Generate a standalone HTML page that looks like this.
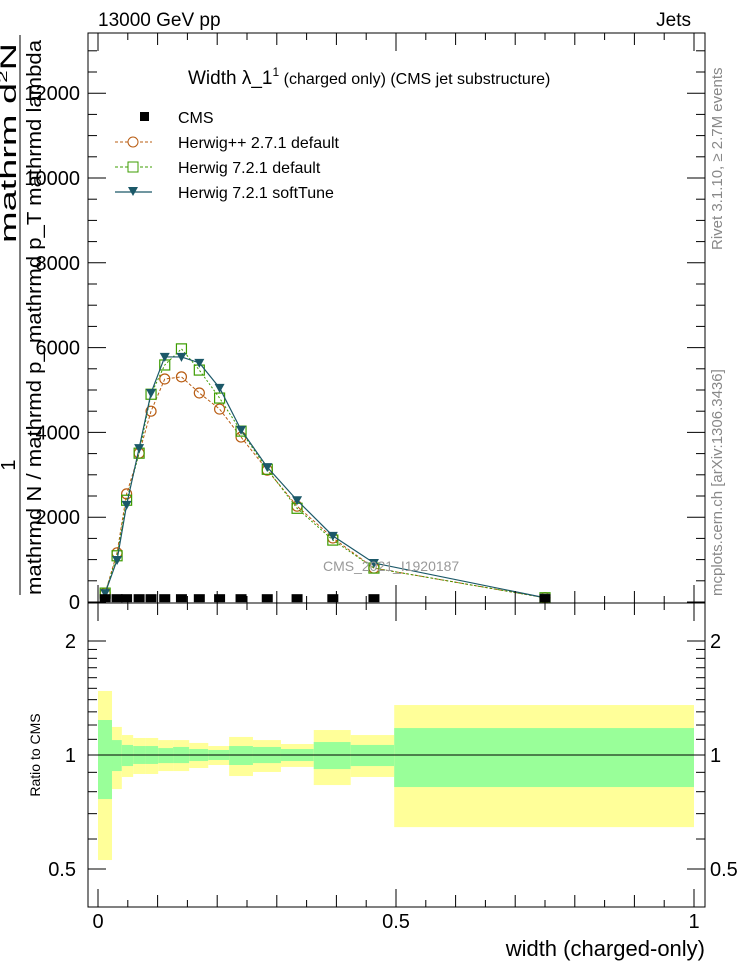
<!DOCTYPE html>
<html><head><meta charset="utf-8"><style>
body{margin:0;background:#fff;}
svg{display:block;font-family:"Liberation Sans",sans-serif;}
</style></head><body>
<svg id="chart" width="746" height="972" viewBox="0 0 746 972">
<g id="bands"></g>
<g id="grid"></g>
<g id="marks"></g>
<rect x="88" y="33" width="617" height="570" fill="none" stroke="#000"/>
<rect x="88" y="603" width="617" height="304" fill="none" stroke="#000"/>
<g id="ticks"></g>
<text x="98" y="26" font-size="19">13000 GeV pp</text>
<text x="691" y="26" font-size="19" text-anchor="end">Jets</text>
<text x="188" y="84" font-size="19">Width λ_1<tspan font-size="12" dy="-8">1</tspan><tspan font-size="16" dy="8"> (charged only) (CMS jet substructure)</tspan></text>
<g>
<rect x="140" y="112" width="9" height="9" fill="#000"/>
<text x="178" y="123" font-size="16">CMS</text>
<line x1="115" y1="142" x2="152" y2="142" stroke="#b85c12" stroke-dasharray="3,2"/>
<circle cx="133" cy="142" r="5" fill="#fff" stroke="#b85c12"/>
<text x="178" y="148" font-size="16">Herwig++ 2.7.1 default</text>
<line x1="115" y1="167" x2="152" y2="167" stroke="#3c9c00" stroke-dasharray="3,2"/>
<rect x="128" y="162" width="10" height="10" fill="#fff" stroke="#3c9c00"/>
<text x="178" y="173" font-size="16">Herwig 7.2.1 default</text>
<line x1="115" y1="192" x2="152" y2="192" stroke="#1b5868" stroke-width="1.3"/>
<path d="M128,187 L138,187 L133,196 Z" fill="#1b5868"/>
<text x="178" y="198" font-size="16">Herwig 7.2.1 softTune</text>
</g>
<text x="323" y="571" font-size="14" fill="#999">CMS_2021_I1920187</text>
<text transform="translate(722,250) rotate(-90)" font-size="15" fill="#888">Rivet 3.1.10, ≥ 2.7M events</text>
<text transform="translate(722,596) rotate(-90)" font-size="15" fill="#888">mcplots.cern.ch [arXiv:1306.3436]</text>
<g id="ytitle">
<line x1="20" y1="35" x2="20" y2="595" stroke="#000"/>
<text transform="translate(16,243) rotate(-90)" font-size="22" textLength="200" lengthAdjust="spacingAndGlyphs">mathrm d<tspan font-size="13" dy="-9">2</tspan><tspan dy="9">N</tspan></text>
<text transform="translate(15,465) rotate(-90)" font-size="20" text-anchor="middle">1</text>
<text transform="translate(41,595) rotate(-90)" font-size="20" textLength="555" lengthAdjust="spacingAndGlyphs">mathrmd N / mathrmd p_ mathrmd p_T mathrmd lambda</text>
</g>
<text transform="translate(40,755) rotate(-90)" font-size="14" text-anchor="middle">Ratio to CMS</text>
<text x="705" y="956" font-size="22" text-anchor="end">width (charged-only)</text>
<line x1="88" y1="755" x2="705" y2="755" stroke="#000"/>
</svg>
<script>
const binEdges=[0,0.0235,0.04,0.059,0.079,0.101,0.126,0.153,0.185,0.220,0.260,0.307,0.362,0.424,0.497,1.0];
const xCenters=[0.012,0.032,0.048,0.069,0.089,0.112,0.140,0.170,0.204,0.240,0.284,0.334,0.394,0.463,0.750];
const cmsVals=[90,90,90,90,90,90,90,90,90,90,90,90,90,90,90];
const hppVals=[210,1160,2550,3510,4500,5260,5310,4930,4550,3890,3110,2260,1510,800,100];
const h7Vals=[210,1090,2400,3510,4900,5590,5970,5470,4810,4030,3130,2210,1460,800,100];
const softVals=[210,990,2290,3630,4930,5780,5780,5640,5050,4060,3180,2400,1560,920,100];
const statUp=[1.237,1.095,1.063,1.056,1.056,1.043,1.05,1.037,1.031,1.056,1.05,1.037,1.082,1.063,1.178];
const statDn=[0.765,0.907,0.935,0.947,0.947,0.952,0.952,0.964,0.970,0.941,0.952,0.964,0.918,0.935,0.823];
const totUp=[1.476,1.186,1.129,1.109,1.109,1.095,1.095,1.076,1.056,1.116,1.095,1.069,1.164,1.129,1.355];
const totDn=[0.528,0.813,0.875,0.891,0.891,0.907,0.907,0.924,0.941,0.880,0.902,0.930,0.833,0.875,0.645];
const yTickLabels=["0","2000","4000","6000","8000","10000","12000"];
const yTickVals=[0,2000,4000,6000,8000,10000,12000];
const xTickVals=[0,0.5,1];
const xTickLabels=["0","0.5","1"];
const rTickVals=[0.5,1,2];
const rTickLabels=["0.5","1","2"];

const NS="http://www.w3.org/2000/svg";
const X=v=>98+596*v;
const Y=v=>602-v*(84.8/2000);
const R=r=>755-114*Math.log2(r);
function mk(tag,attrs,parent){const e=document.createElementNS(NS,tag);for(const k in attrs)e.setAttribute(k,attrs[k]);parent.appendChild(e);return e;}
const bands=document.getElementById('bands'),marks=document.getElementById('marks'),ticks=document.getElementById('ticks');

for(let i=0;i<statUp.length;i++){
  const x0=X(binEdges[i]),x1=X(binEdges[i+1]);
  const yb=mk('rect',{x:x0,y:R(totUp[i]),width:x1-x0,height:R(totDn[i])-R(totUp[i]),fill:'#ffff99'},bands);
  
  
  const gb=mk('rect',{x:x0,y:R(statUp[i]),width:x1-x0,height:R(statDn[i])-R(statUp[i]),fill:'#99ff99'},bands);
  
  
}

function series(vals,color,dash,width,shape,name){
  const pts=vals.map((v,i)=>X(xCenters[i])+','+Y(v)).join(' ');
  const pl=mk('polyline',{points:pts,fill:'none',stroke:color,'stroke-width':width},marks);
  if(dash)pl.setAttribute('stroke-dasharray',dash);
  
  
  vals.forEach((v,i)=>{
    const cx=X(xCenters[i]),cy=Y(v);let m;
    if(shape==='circle')m=mk('circle',{cx:cx,cy:cy,r:5,fill:'none',stroke:color,'stroke-width':1.2},marks);
    else if(shape==='square')m=mk('rect',{x:cx-5,y:cy-5,width:10,height:10,fill:'none',stroke:color,'stroke-width':1.2},marks);
    else m=mk('path',{d:`M${cx-5},${cy-4} L${cx+5},${cy-4} L${cx},${cy+5} Z`,fill:color},marks);
    
    
  });
}
series(hppVals,'#b85c12','3,2',1,'circle','herwigpp');
series(h7Vals,'#3c9c00','2,2',1,'square','herwig7');
series(softVals,'#1b5868',null,1.2,'tri','softtune');
cmsVals.forEach((v,i)=>{
  const s=mk('rect',{x:X(xCenters[i])-5.5,y:Y(v)-4,width:11,height:8,fill:'#000'},marks);
  
  
});

for(let v=0;v<=13000;v+=500){
  const major=v%2000===0, len=major?18:9;
  mk('line',{x1:88,y1:Y(v),x2:88+len,y2:Y(v),stroke:'#000'},ticks);
  mk('line',{x1:705,y1:Y(v),x2:705-len,y2:Y(v),stroke:'#000'},ticks);
}
yTickVals.forEach((v,i)=>{
  const t=mk('text',{x:80,y:Y(v)+7,'font-size':20,'text-anchor':'end'},ticks);
  t.textContent=yTickLabels[i];
  
  
});
for(let k=0;k<=20;k++){
  const v=k*0.05;const len=k%10===0?18:(k%2===0?12:7);
  mk('line',{x1:X(v),y1:603,x2:X(v),y2:603-len,stroke:'#000'},ticks);
  mk('line',{x1:X(v),y1:33,x2:X(v),y2:33+len,stroke:'#000'},ticks);
  mk('line',{x1:X(v),y1:907,x2:X(v),y2:907-len,stroke:'#000'},ticks);
  mk('line',{x1:X(v),y1:603,x2:X(v),y2:603+len,stroke:'#000'},ticks);
}
xTickVals.forEach((v,i)=>{
  const t=mk('text',{x:X(v),y:928,'font-size':20,'text-anchor':'middle'},ticks);
  t.textContent=xTickLabels[i];
  
  
});
[0.5,0.6,0.7,0.8,0.9,1,1.1,1.2,1.3,1.4,1.5,1.6,1.7,1.8,1.9,2].forEach(v=>{
  const major=(v===0.5||v===1||v===2), len=major?18:9;
  mk('line',{x1:88,y1:R(v),x2:88+len,y2:R(v),stroke:'#000'},ticks);
  mk('line',{x1:705,y1:R(v),x2:705-len,y2:R(v),stroke:'#000'},ticks);
});
rTickVals.forEach((v,i)=>{
  const t=mk('text',{x:76,y:R(v)+7,'font-size':20,'text-anchor':'end'},ticks);
  t.textContent=rTickLabels[i];
  
  
  const t2=mk('text',{x:710,y:R(v)+7,'font-size':20},ticks);
  t2.textContent=rTickLabels[i];
  
  
});
</script>
</body></html>
